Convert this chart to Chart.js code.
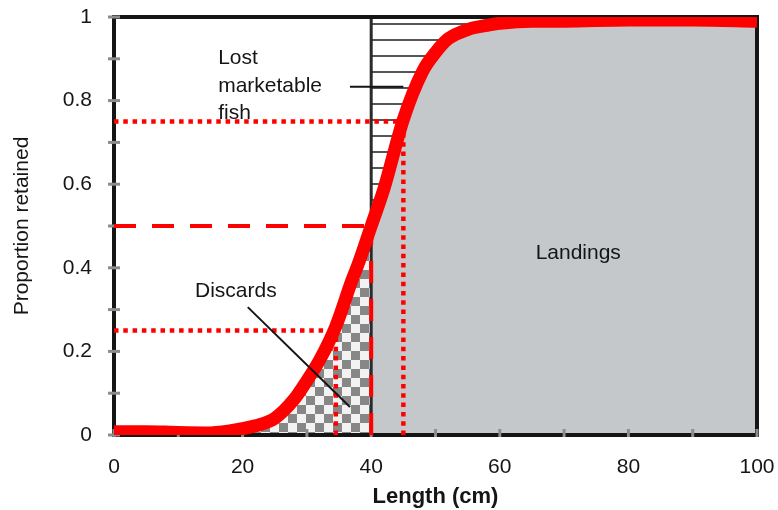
<!DOCTYPE html>
<html>
<head>
<meta charset="utf-8">
<script src="https://cdn.jsdelivr.net/npm/chart.js@4.4.0/dist/chart.umd.min.js"></script>
<style>
  body { margin: 0; background: #fff; }
  #wrap { width: 778px; height: 510px; position: relative; }
</style>
</head>
<body>
<div id="wrap"><canvas id="grafico"></canvas></div>
<script>
// selection curve
const lengths  = [0, 5, 10, 15, 20, 22, 25, 28, 30, 32, 34.5, 37, 38, 40, 42, 45, 48, 50, 52, 55, 58, 60, 65, 70, 80, 90, 100]
const retained = [0.008, 0.008, 0.006, 0.005, 0.015, 0.022, 0.04, 0.085, 0.13, 0.18, 0.26, 0.37, 0.41, 0.5, 0.59, 0.755, 0.87, 0.915, 0.948, 0.97, 0.98, 0.985, 0.99, 0.99, 0.993, 0.993, 0.99]

// L25, L50, L75 reference lines
const levels  = [0.25, 0.5, 0.75]
const lLevels = [34.5, 40, 45]
const mls = 40          // minimum landing size
const discardStart = 20

const yTicks = [0, 0.2, 0.4, 0.6, 0.8, 1]
const xTicks = [0, 20, 40, 60, 80, 100]

const pts = lengths.map((x, i) => ({ x: x, y: retained[i] }))
const landingPts = pts.filter(p => p.x >= mls)
const discardPts = pts.filter(p => p.x >= discardStart && p.x <= mls)
const topPts = landingPts.map(p => ({ x: p.x, y: 1 }))

const ctx = document.getElementById('grafico')
const c2d = ctx.getContext('2d')

// checkered pattern for discards
function checker() {
    const cv = document.createElement('canvas')
    cv.width = 18; cv.height = 18
    const g = cv.getContext('2d')
    g.fillStyle = '#f2f2f2'
    g.fillRect(0, 0, 18, 18)
    g.fillStyle = '#878787'
    g.fillRect(0, 0, 9, 9)
    g.fillRect(9, 9, 9, 9)
    return c2d.createPattern(cv, 'repeat')
}

// horizontal hatching for lost marketable fish
function hatch() {
    const cv = document.createElement('canvas')
    cv.width = 16; cv.height = 16
    const g = cv.getContext('2d')
    g.fillStyle = '#ffffff'
    g.fillRect(0, 0, 16, 16)
    g.fillStyle = '#555555'
    g.fillRect(0, 7, 16, 2)
    return c2d.createPattern(cv, 'repeat')
}

const refLines = []
levels.forEach((lv, i) => {
    const dash = lv === 0.5 ? [22, 16] : [4.5, 4.8]
    const w = lv === 0.5 ? 4 : 4.5
    refLines.push({
        label: 'h' + lv, data: [{ x: 0, y: lv }, { x: lLevels[i], y: lv }], showLine: true,
        borderColor: '#ff0000', borderWidth: w, borderDash: dash,
        pointRadius: 0, fill: false, order: 1
    })
    refLines.push({
        label: 'v' + lv, data: [{ x: lLevels[i], y: 0 }, { x: lLevels[i], y: lv }], showLine: true,
        borderColor: '#ff0000', borderWidth: w, borderDash: dash,
        pointRadius: 0, fill: false, order: 1
    })
})

const frame = {
    id: 'frame',
    afterDatasetDraw(chart, args) {
        if (chart.data.datasets[args.index].label !== 'mls') return
        const { ctx, chartArea: a, scales: { x, y } } = chart
        ctx.save()
        ctx.strokeStyle = '#151515'
        ctx.lineWidth = 4
        ctx.strokeRect(a.left, a.top, a.right - a.left, a.bottom - a.top)
        // little grey tick knobs
        ctx.strokeStyle = '#8c8c8c'
        ctx.lineWidth = 3
        y.ticks.forEach(t => {
            const py = y.getPixelForValue(t.value)
            ctx.beginPath(); ctx.moveTo(a.left - 6, py); ctx.lineTo(a.left + 6, py); ctx.stroke()
        })
        x.ticks.forEach(t => {
            const px = x.getPixelForValue(t.value)
            ctx.beginPath(); ctx.moveTo(px, a.bottom - 6); ctx.lineTo(px, a.bottom + 2); ctx.stroke()
        })
        ctx.restore()
    },
    afterDatasetsDraw(chart) {
        const { ctx, scales: { x, y } } = chart
        ctx.save()
        ctx.fillStyle = '#151515'
        ctx.font = '21px "Liberation Sans", Arial, sans-serif'
        ctx.textBaseline = 'alphabetic'
        ctx.textAlign = 'left'
        ctx.fillText('Lost', x.getPixelForValue(16.2), y.getPixelForValue(0.888))
        ctx.fillText('marketable', x.getPixelForValue(16.2), y.getPixelForValue(0.821))
        ctx.fillText('fish', x.getPixelForValue(16.2), y.getPixelForValue(0.756))
        ctx.fillText('Discards', x.getPixelForValue(12.6), y.getPixelForValue(0.33))
        ctx.textAlign = 'center'
        ctx.fillText('Landings', x.getPixelForValue(72.2), y.getPixelForValue(0.42))
        // pointer lines
        ctx.strokeStyle = '#151515'
        ctx.lineWidth = 2
        ctx.beginPath()
        ctx.moveTo(x.getPixelForValue(36.7), y.getPixelForValue(0.833))
        ctx.lineTo(x.getPixelForValue(45), y.getPixelForValue(0.833))
        ctx.stroke()
        const x0 = x.getPixelForValue(20.8), y0 = y.getPixelForValue(0.306)
        const x1 = x.getPixelForValue(36.7), y1 = y.getPixelForValue(0.067)
        ctx.beginPath(); ctx.moveTo(x0, y0); ctx.lineTo(x1, y1); ctx.stroke()
        ctx.restore()
    }
}

new Chart(ctx, {
    type: 'scatter',
    data: {
        datasets: [
            {
                label: 'curve', data: pts, showLine: true, borderColor: '#ff0000',
                borderWidth: 13, pointRadius: 0, cubicInterpolationMode: 'monotone',
                fill: false, order: 0
            },
            ...refLines,
            {
                label: 'mls', data: [{ x: mls, y: 0 }, { x: mls, y: 1 }], showLine: true,
                borderColor: '#2a2a2a', borderWidth: 3, pointRadius: 0, fill: false, order: 2
            },
            {
                label: 'top', data: topPts, showLine: true, borderWidth: 0, borderColor: 'rgba(0,0,0,0)',
                pointRadius: 0, backgroundColor: hatch(), fill: { target: { value: 0 } }, order: 4
            },
            {
                label: 'discards', data: discardPts, showLine: true, borderWidth: 0, borderColor: 'rgba(0,0,0,0)',
                pointRadius: 0, cubicInterpolationMode: 'monotone', backgroundColor: checker(),
                fill: 'origin', order: 5
            },
            {
                label: 'landings', data: landingPts, showLine: true, borderWidth: 0, borderColor: 'rgba(0,0,0,0)',
                pointRadius: 0, cubicInterpolationMode: 'monotone', backgroundColor: '#c4c8ca',
                fill: 'origin', order: 3
            }
        ]
    },
    options: {
        responsive: true,
        maintainAspectRatio: false,
        animation: false,
        layout: { padding: { top: 17, right: 21, left: 0, bottom: 0 } },
        plugins: { legend: { display: false }, tooltip: { enabled: false } },
        scales: {
            x: {
                type: 'linear', min: 0, max: 100,
                grid: { display: false, drawTicks: false }, border: { display: false },
                ticks: {
                    stepSize: 10, autoSkip: false, padding: 20, color: '#151515',
                    font: { size: 21, family: '"Liberation Sans", Arial, sans-serif' },
                    callback: v => xTicks.includes(v) ? String(v) : ''
                },
                title: {
                    display: true, text: 'Length (cm)', color: '#151515',
                    font: { size: 22, weight: 'bold', family: '"Liberation Sans", Arial, sans-serif' },
                    padding: { top: 0, bottom: 0 }
                },
                afterFit: s => { s.height = 75; s.paddingLeft = 0; s.paddingRight = 0 }
            },
            y: {
                min: 0, max: 1,
                grid: { display: false, drawTicks: false }, border: { display: false },
                ticks: {
                    stepSize: 0.1, autoSkip: false, padding: 22, color: '#151515',
                    font: { size: 21, family: '"Liberation Sans", Arial, sans-serif' },
                    callback: v => {
                        const k = Math.round(v * 10) / 10
                        return yTicks.includes(k) ? String(k) : ''
                    }
                },
                title: {
                    display: true, text: 'Proportion retained', color: '#151515',
                    font: { size: 21, family: '"Liberation Sans", Arial, sans-serif' },
                    padding: { top: 10, bottom: 0 }
                },
                afterFit: s => { s.width = 114; s.paddingTop = 0; s.paddingBottom = 0 }
            }
        }
    },
    plugins: [frame]
})
</script>
</body>
</html>
